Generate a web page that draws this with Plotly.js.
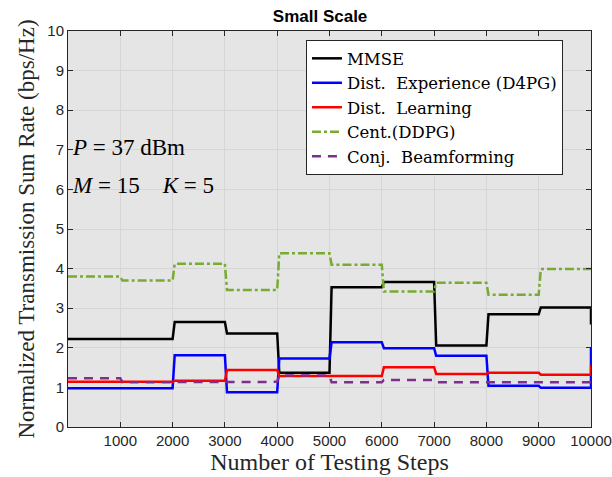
<!DOCTYPE html>
<html>
<head>
<meta charset="utf-8">
<script src="https://cdn.plot.ly/plotly-3.0.1.min.js"></script>
<style>html,body{margin:0;padding:0;background:#fff;}#chart{width:612px;height:477px;}</style>
</head>
<body>
<div id="chart"></div>
<script>
// Segment boundaries (testing steps)
const segmentStarts = [0, 1000, 2000, 3000, 4000, 5000, 6000, 7000, 8000, 9000];
const segmentEnd = 10000;
const xTickVals = [1000, 2000, 3000, 4000, 5000, 6000, 7000, 8000, 9000, 10000];
const yTickVals = [0, 1, 2, 3, 4, 5, 6, 7, 8, 9, 10];

// Value on each 1000-step segment, then the value reached at step 10000
const mmse      = [2.22, 2.22, 2.65, 2.36, 1.37, 3.53, 3.66, 2.06, 2.85, 3.02];
const mmseEnd   = 2.59;
const d4pg      = [0.98, 0.98, 1.81, 0.88, 1.73, 2.14, 1.99, 1.80, 1.04, 0.99];
const d4pgEnd   = 2.01;
const distLearn = [1.14, 1.14, 1.17, 1.44, 1.29, 1.29, 1.51, 1.34, 1.37, 1.32];
const distLearnEnd = 1.57;
const ddpg      = [3.80, 3.70, 4.12, 3.46, 4.39, 4.10, 3.42, 3.64, 3.34, 3.99];
const ddpgEnd   = 3.99;
const conjBF    = [1.23, 1.13, 1.14, 1.14, 1.30, 1.13, 1.19, 1.13, 1.14, 1.13];
const conjBFEnd = 1.13;

const seriesNames = ['MMSE', 'Dist.  Experience (D4PG)', 'Dist.  Learning', 'Cent.(DDPG)', 'Conj.  Beamforming'];

function stepXY(vals, endVal) {
  const x = [], y = [];
  for (let i = 0; i < vals.length; i++) {
    const s = segmentStarts[i];
    const e = (i + 1 < segmentStarts.length) ? segmentStarts[i + 1] : segmentEnd;
    x.push(i === 0 ? s : s + 40); y.push(vals[i]);
    x.push(e); y.push(vals[i]);
  }
  x.push(segmentEnd); y.push(endVal);
  return {x, y};
}

const specs = [
  {v: mmse, e: mmseEnd, color: '#000000', dash: 'solid'},
  {v: d4pg, e: d4pgEnd, color: '#0000ff', dash: 'solid'},
  {v: distLearn, e: distLearnEnd, color: '#ff0000', dash: 'solid'},
  {v: ddpg, e: ddpgEnd, color: '#77ac30', dash: 'dashdot'},
  {v: conjBF, e: conjBFEnd, color: '#7e2f8e', dash: '9px,7px'}
];

const traces = specs.map((s, i) => {
  const xy = stepXY(s.v, s.e);
  return {
    x: xy.x, y: xy.y, type: 'scatter', mode: 'lines', name: seriesNames[i],
    line: {color: s.color, width: 2.5, dash: s.dash}
  };
});

const serif = 'Liberation Serif, Times New Roman, serif';
const wideSerif = 'DejaVu Serif, Liberation Serif, serif';
const sans = 'Liberation Sans, Arial, Helvetica, sans-serif';

const layout = {
  width: 612, height: 477,
  margin: {l: 68, r: 21, t: 31, b: 50},
  paper_bgcolor: '#ffffff',
  plot_bgcolor: '#e5e5e5',
  showlegend: true,
  title: {text: '<b>Small Scale</b>', font: {family: sans, size: 17, color: '#000'}, x: 0.523, xref: 'container', xanchor: 'center', y: 0.978, yref: 'container', yanchor: 'top'},
  xaxis: {
    range: [0, 10000], tickvals: xTickVals, ticktext: xTickVals.map(String),
    ticks: 'inside', ticklen: 5, tickcolor: '#262626', showline: true, linecolor: '#262626', linewidth: 1,
    mirror: 'ticks', showgrid: true, gridcolor: '#d6d6d6', gridwidth: 1, zeroline: false,
    tickfont: {family: sans, size: 15, color: '#262626'},
    title: {text: 'Number of Testing Steps', font: {family: serif, size: 24, color: '#262626'}, standoff: 5}
  },
  yaxis: {
    range: [0, 10], tickvals: yTickVals, ticktext: yTickVals.map(String),
    ticks: 'inside', ticklen: 5, tickcolor: '#262626', showline: true, linecolor: '#262626', linewidth: 1,
    mirror: 'ticks', showgrid: true, gridcolor: '#d6d6d6', gridwidth: 1, zeroline: false,
    tickfont: {family: sans, size: 15, color: '#262626'},
    title: {text: 'Normalized Transmission Sum Rate (bps/Hz)', font: {family: serif, size: 23, color: '#262626'}, standoff: 6}
  },
  legend: {
    x: 0.455, y: 0.977, xanchor: 'left', yanchor: 'top',
    bgcolor: '#ffffff', bordercolor: '#262626', borderwidth: 1,
    font: {family: wideSerif, size: 16.5, color: '#000'},
    tracegroupgap: 0, itemwidth: 30
  },
  annotations: [
    {xref: 'paper', yref: 'paper', x: 0.003, y: 0.705, xanchor: 'left', yanchor: 'middle', showarrow: false,
     text: '<i>P</i> = 37 dBm', font: {family: serif, size: 23, color: '#000'}},
    {xref: 'paper', yref: 'paper', x: 0.003, y: 0.609, xanchor: 'left', yanchor: 'middle', showarrow: false,
     text: '<i>M</i> = 15    <i>K</i> = 5', font: {family: serif, size: 23, color: '#000'}}
  ]
};

Plotly.newPlot('chart', traces, layout, {displayModeBar: false, staticPlot: true});
</script>
</body>
</html>
